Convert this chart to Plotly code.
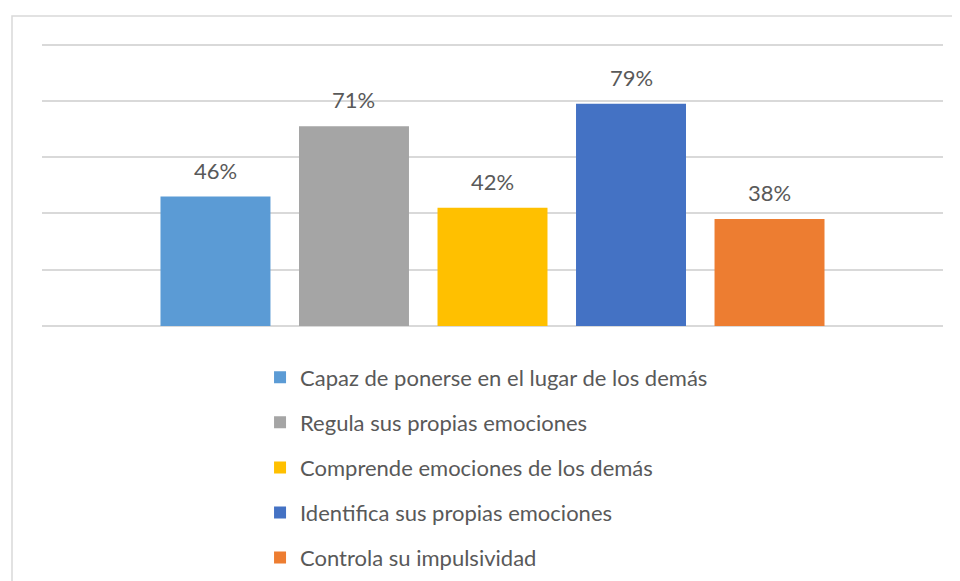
import plotly.graph_objects as go

# Porcentaje de estudiantes por habilidad
categorias = ['Capaz de ponerse en el lugar de los demás',
              'Regula sus propias emociones',
              'Comprende emociones de los demás',
              'Identifica sus propias emociones',
              'Controla su impulsividad']
valores = [0.46, 0.71, 0.42, 0.79, 0.38]
colores = ['#5B9BD5', '#A5A5A5', '#FFC000', '#4472C4', '#ED7D31']

FONT = 'Lato'
TEXT_COLOR = '#595959'

fig = go.Figure()

for i, (nombre, val, col) in enumerate(zip(categorias, valores, colores)):
    fig.add_trace(go.Bar(x=[nombre],
                         y=[val],
                         name=nombre,
                         legendgroup=str(i),
                         width=0.794,
                         marker=dict(color=col, line=dict(width=0)),
                         hoverinfo='skip'))
    # etiqueta de porcentaje sobre la barra
    fig.add_annotation(x=nombre, y=val, xref='x', yref='y',
                       text=f'{round(val * 100)}%',
                       showarrow=False, yanchor='bottom', yshift=11,
                       font=dict(family=FONT, size=22, color=TEXT_COLOR))

# marco del grafico
fig.add_shape(type='rect', xref='paper', yref='paper',
              x0=-0.0333, x1=1.2, y0=-1.5, y1=1.08,
              line=dict(color='#D9D9D9', width=1.5),
              fillcolor='rgba(0,0,0,0)', layer='below')

# la pagina tiene 8px de margen, por eso 952x573
fig.update_layout(width=952, height=573,
                  margin=dict(l=34, r=17, t=31, b=255, autoexpand=False),
                  paper_bgcolor='white',
                  plot_bgcolor='white',
                  barmode='overlay',
                  showlegend=True,
                  legend=dict(orientation='v',
                              x=0.242, xanchor='left',
                              y=-0.106, yanchor='top',
                              font=dict(family=FONT, size=22, color=TEXT_COLOR),
                              tracegroupgap=13.5,
                              traceorder='grouped',
                              bgcolor='rgba(0,0,0,0)'),
                  font=dict(family=FONT, color=TEXT_COLOR))

fig.update_xaxes(type='category', range=[-1.2525, 5.2525],
                 showticklabels=False, showgrid=False, zeroline=False,
                 showline=False, ticks='')
fig.update_yaxes(range=[0, 1.02], tickvals=[0, 0.2, 0.4, 0.6, 0.8, 1.0],
                 showticklabels=False,
                 showgrid=True, gridcolor='#D9D9D9', gridwidth=1.5,
                 zeroline=True, zerolinecolor='#D9D9D9', zerolinewidth=1.5,
                 showline=False, ticks='')

fig.write_html('out.html')
